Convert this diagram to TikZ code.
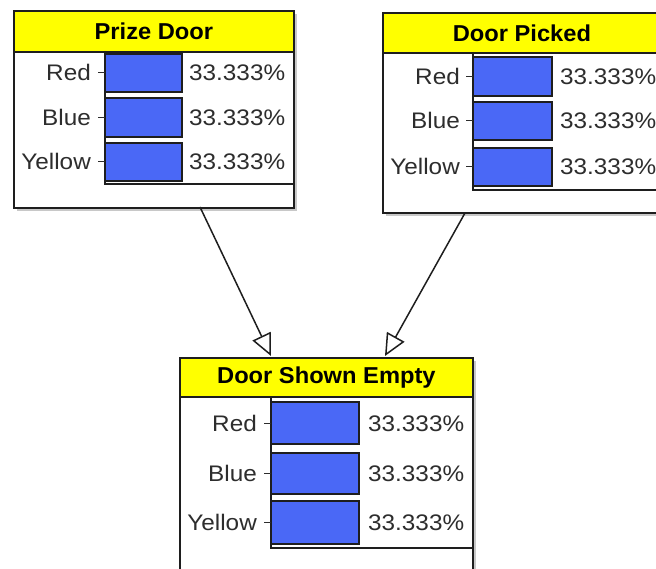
\documentclass[tikz,border=0pt]{standalone}
\usepackage{fontspec}
\setmainfont{Liberation Sans}
\newfontfamily\widesans[FakeStretch=1.08]{Liberation Sans}
\newfontfamily\headsans[FakeStretch=1.03]{Liberation Sans}
\usetikzlibrary{arrows.meta}
\definecolor{hdryellow}{RGB}{255,255,0}
\definecolor{barblue}{RGB}{74,104,246}
\definecolor{ink}{RGB}{30,30,30}
\definecolor{txt}{RGB}{45,45,45}
\definecolor{shade}{RGB}{200,200,200}
\begin{document}
\begin{tikzpicture}[x=1pt,y=-1pt,
  shadowbox/.style={fill=shade, draw=none},
  bodybox/.style={draw=ink, line width=1.8pt, fill=white, inner sep=0pt, anchor=north west},
  headbox/.style={draw=ink, line width=1.8pt, fill=hdryellow, inner sep=0pt, anchor=north west,
    font=\headsans\fontsize{23}{27}\selectfont\bfseries, text=black},
  bar/.style={draw=ink, line width=1.4pt, fill=barblue},
  axisline/.style={draw=ink, line width=1.4pt},
  tick/.style={draw=txt, line width=1pt},
  lbl/.style={inner sep=0pt, anchor=base east, text=txt, font=\widesans\fontsize{22.5}{27}\selectfont},
  pct/.style={inner sep=0pt, anchor=base west, text=txt, font=\widesans\fontsize{22.5}{27}\selectfont},
  link/.style={draw=ink, line width=1.5pt,
    -{Triangle[open, length=22pt, width=20pt, fill=white, line width=1.5pt]}}]
\useasboundingbox (0,0) rectangle (656,569);
\clip (0,0) rectangle (656,569);

% ---------- Prize Door ----------
\fill[shadowbox] (17,14) rectangle (297,211);
\node[bodybox, minimum width=280pt, minimum height=197pt] (pd) at (13,10) {};
\node[headbox, minimum width=280pt, minimum height=41pt] (pdh) at (13,10) {Prize Door};
\draw[axisline] (105,51) -- (105,184) -- (293,184);
\foreach \t/\b/\name in {54/92/Red, 98/137/Blue, 143/181/Yellow}{
  \draw[bar] (105,\t) rectangle (182,\b);
  \pgfmathsetmacro\mid{(\t+\b)/2}
  \draw[tick] (98,\mid) -- (105,\mid);
  \node[lbl] at (91,\mid+8) {\name};
  \node[pct] at (189,\mid+8) {33.333\%};
}

% ---------- Door Picked ----------
\fill[shadowbox] (386,16) rectangle (664,216);
\node[bodybox, minimum width=278pt, minimum height=200pt] (dp) at (382,12) {};
\node[headbox, minimum width=278pt, minimum height=40pt] (dph) at (382,12) {Door Picked};
\draw[axisline] (473,52) -- (473,190) -- (660,190);
\foreach \t/\b/\name in {57/96/Red, 102/140/Blue, 148/186/Yellow}{
  \draw[bar] (473,\t) rectangle (552,\b);
  \pgfmathsetmacro\mid{(\t+\b)/2}
  \draw[tick] (466,\mid) -- (473,\mid);
  \node[lbl] at (460,\mid+8) {\name};
  \node[pct] at (560,\mid+8) {33.333\%};
}

% ---------- Door Shown Empty ----------
\fill[shadowbox] (183,361) rectangle (476,610);
\node[bodybox, minimum width=293pt, minimum height=250pt] (dse) at (179,357) {};
\node[headbox, minimum width=293pt, minimum height=39pt] (dseh) at (179,357) {Door Shown Empty};
\draw[axisline] (271,396) -- (271,548) -- (472,548);
\foreach \t/\b/\name in {402/444/Red, 453/494/Blue, 501/544/Yellow}{
  \draw[bar] (271,\t) rectangle (359,\b);
  \pgfmathsetmacro\mid{(\t+\b)/2}
  \draw[tick] (264,\mid) -- (271,\mid);
  \node[lbl] at (257,\mid+8) {\name};
  \node[pct] at (368,\mid+8) {33.333\%};
}

% ---------- links ----------
\coordinate (pdout) at (200,207);
\coordinate (dpout) at (465,213);
\coordinate (dsein1) at (271,356);
\coordinate (dsein2) at (385,356);
\draw[link] (pdout) -- (dsein1);
\draw[link] (dpout) -- (dsein2);
\end{tikzpicture}
\end{document}
